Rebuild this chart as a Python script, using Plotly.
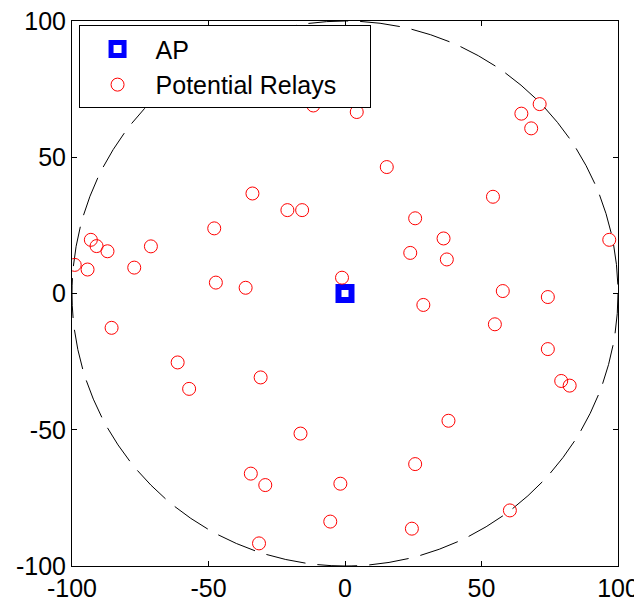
import plotly.graph_objects as go

# Access point
ap_x = [0]
ap_y = [0]

# Potential relays
relay_x = [-99, -94.3, -93.1, -91.0, -87.0, -77.2, -71.1, -47.9, -47.3, -36.4, -33.9, -21.1, -15.7, -11.6,
           4.3, 15.3, 25.7, 36.1, 23.9, 37.3, -1.1, 54.2, 64.6, 71.3, 68.2, 96.8, 57.8, 74.3, 28.7,
           54.9, 74.3, 79.2, 82.3, 37.9, 25.7, -1.7, -5.4, 24.5, 60.4,
           -85.5, -61.3, -57.1, -30.9, -16.3, -34.5, -29.2, -31.5]
relay_y = [10.5, 8.8, 19.7, 17.4, 15.5, 9.5, 17.3, 23.9, 4.0, 2.1, 36.7, 30.6, 30.6, 69.0,
           66.6, 46.4, 27.6, 20.2, 14.9, 12.5, 5.8, 35.5, 66.0, 69.5, 60.6, 19.7, 0.9, -1.3, -4.2,
           -11.3, -20.4, -32.1, -33.8, -46.7, -62.6, -69.8, -83.7, -86.3, -79.6,
           -12.6, -25.3, -35.0, -30.8, -51.4, -66.1, -70.3, -91.7]

radius = 100
tick_vals = [-100, -50, 0, 50, 100]
tick_text = ["-100", "-50", "0", "50", "100"]

fig = go.Figure()
fig.add_trace(go.Scatter(
    x=ap_x, y=ap_y, mode="markers", name="AP",
    marker=dict(symbol="square-open", size=13, color="#0000ff", line=dict(width=6, color="#0000ff")),
))
fig.add_trace(go.Scatter(
    x=relay_x, y=relay_y, mode="markers", name="Potential Relays\u00a0\u00a0\u00a0\u00a0",
    marker=dict(symbol="circle-open", size=13, color="#ff0000", line=dict(width=1, color="#ff0000")),
))

fig.add_shape(type="circle", xref="x", yref="y", x0=-radius, y0=-radius, x1=radius, y1=radius,
              line=dict(color="black", width=1, dash="40px,12px"), layer="below")

axis_common = dict(
    tickmode="array", tickvals=tick_vals, ticktext=tick_text,
    showgrid=False, zeroline=False, showline=True, linecolor="black", linewidth=1,
    mirror="ticks", ticks="inside", ticklen=5, tickcolor="black", automargin=False,
    ticklabeloverflow="allow",
    tickfont=dict(family="Liberation Sans, Arial", size=25, color="black"),
)

# the page body adds an 8px offset, so the figure is sized/margined to compensate
fig.update_layout(
    width=634, height=595,
    margin=dict(l=64, r=24, t=13, b=37),
    paper_bgcolor="white", plot_bgcolor="white",
    showlegend=True,
    xaxis=dict(range=[-100, 100], **axis_common),
    yaxis=dict(range=[-100, 100], **axis_common),
    legend=dict(
        x=0.012, y=0.992, xanchor="left", yanchor="top",
        bgcolor="white", bordercolor="black", borderwidth=1,
        font=dict(family="Liberation Sans, Arial", size=25, color="black"),
        itemwidth=66, indentation=0, tracegroupgap=0,
    ),
)

fig.write_html("out.html")
